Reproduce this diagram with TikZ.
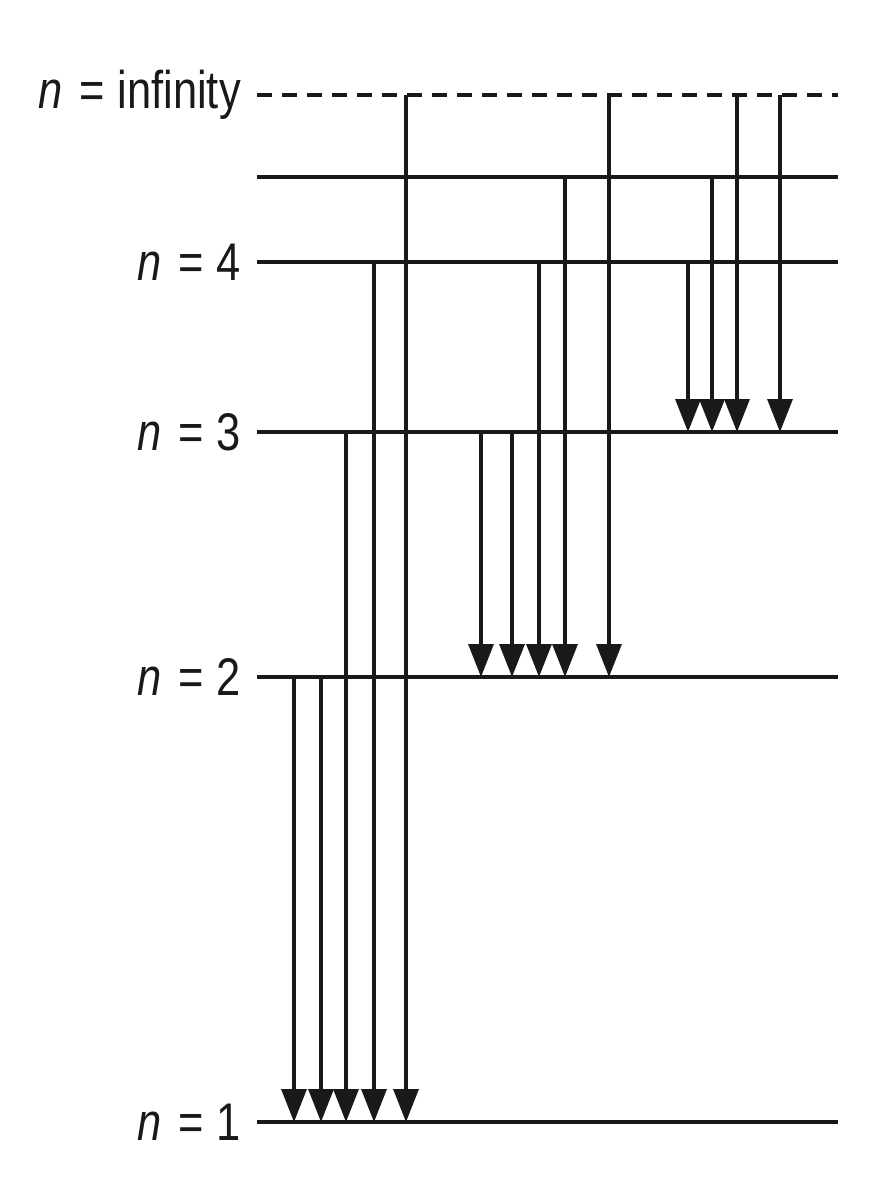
\documentclass[tikz,border=0pt]{standalone}
\usepackage{fontspec}
\setmainfont[FakeStretch=0.82]{Liberation Sans}
\usetikzlibrary{arrows.meta}
\begin{document}
\begin{tikzpicture}[x=1pt,y=-1pt,
  level/.style={line width=3.3pt,draw=black!90},
  dashlevel/.style={level,dash pattern=on 15pt off 10pt},
  trans/.style={line width=3.3pt,draw=black!90,-{Triangle[width=25pt,length=33pt]}},
  lab/.style={anchor=east,inner sep=0pt,font=\fontsize{53}{53}\selectfont,text=black!90}]
\useasboundingbox (0,0) rectangle (896,1200);
% level end points
\coordinate (Li) at (257,95);   \coordinate (Ri) at (838,95);
\coordinate (L5) at (257,177);  \coordinate (R5) at (838,177);
\coordinate (L4) at (257,262);  \coordinate (R4) at (838,262);
\coordinate (L3) at (257,432);  \coordinate (R3) at (838,432);
\coordinate (L2) at (257,677);  \coordinate (R2) at (838,677);
\coordinate (L1) at (257,1122); \coordinate (R1) at (838,1122);
% levels
\draw[dashlevel] (Li) -- (Ri);
\draw[level] (L5) -- (R5);
\draw[level] (L4) -- (R4);
\draw[level] (L3) -- (R3);
\draw[level] (L2) -- (R2);
\draw[level] (L1) -- (R1);
% labels
\node[lab] (ni) at (241,95) {\textit{n}\hspace{0.08em} = \hspace{0.02em}infinity};
\node[lab] (n4) at (241,262) {\textit{n}\hspace{0.08em} = \hspace{0.02em}4};
\node[lab] (n3) at (241,432) {\textit{n}\hspace{0.08em} = \hspace{0.02em}3};
\node[lab] (n2) at (241,677) {\textit{n}\hspace{0.08em} = \hspace{0.02em}2};
\node[lab] (n1) at (241,1122) {\textit{n}\hspace{0.08em} = \hspace{0.02em}1};
% Lyman series
\draw[trans] (294,0 |- L2) -- (294,0 |- L1);
\draw[trans] (321,0 |- L2) -- (321,0 |- L1);
\draw[trans] (346,0 |- L3) -- (346,0 |- L1);
\draw[trans] (374,0 |- L4) -- (374,0 |- L1);
\draw[trans] (406,0 |- Li) -- (406,0 |- L1);
% Balmer series
\draw[trans] (481,0 |- L3) -- (481,0 |- L2);
\draw[trans] (512,0 |- L3) -- (512,0 |- L2);
\draw[trans] (539,0 |- L4) -- (539,0 |- L2);
\draw[trans] (565,0 |- L5) -- (565,0 |- L2);
\draw[trans] (609,0 |- Li) -- (609,0 |- L2);
% Paschen series
\draw[trans] (688,0 |- L4) -- (688,0 |- L3);
\draw[trans] (712,0 |- L5) -- (712,0 |- L3);
\draw[trans] (737,0 |- Li) -- (737,0 |- L3);
\draw[trans] (780,0 |- Li) -- (780,0 |- L3);
\end{tikzpicture}
\end{document}
